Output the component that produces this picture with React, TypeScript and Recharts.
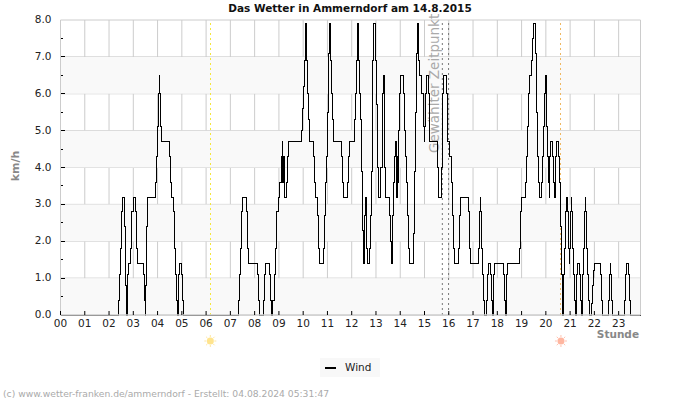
import { CartesianGrid, Legend, Line, LineChart, ReferenceArea, ReferenceLine, XAxis, YAxis } from "recharts";

// logger writes one wind reading about every 2.5 minutes, roughly 24.1 samples an hour
const samplesPerHour = 24.1;
const hourLabels = ["00", "01", "02", "03", "04", "05", "06", "07", "08", "09", "10", "11", "12", "13", "14", "15", "16", "17", "18", "19", "20", "21", "22", "23"];
const hourTicks = [0, 24.1, 48.2, 72.3, 96.4, 120.5, 144.6, 168.7, 192.8, 216.9, 241, 265.1, 289.2, 313.3, 337.4, 361.5, 385.6, 409.7, 433.8, 457.9, 482, 506.1, 530.2, 554.3];
const speedTicks = [0, 0.5, 1, 1.5, 2, 2.5, 3, 3.5, 4, 4.5, 5, 5.5, 6, 6.5, 7, 7.5, 8];
const gridSpeeds = [0, 1, 2, 3, 4, 5, 6, 7, 8];
const bandStarts = [0, 2, 4, 6];

const sunriseSample = 148.8;
const sunsetSample = 497;
const selectedFrom = 379.2;
const selectedTo = 385.4;

// only the samples where the reading changes, the line holds between them
const changeSamples = [
  0,
  58, 59, 60, 61, 62, 64, 65, 66, 67, 68,
  70, 71, 72, 74, 75, 76, 82, 83, 84, 84.5,
  85, 86, 94, 95, 96, 97, 98, 98.5, 99, 100,
  108, 109, 110, 112, 113, 114, 115, 116, 117, 118,
  120, 121, 122, 177, 178, 179, 180, 181, 185, 186,
  187, 196, 197, 198, 202, 203, 204, 208, 209, 210,
  211, 213, 214, 215, 216, 217, 219, 220, 220.5, 221,
  222, 224, 225, 226, 239, 240, 241, 242, 243, 243.5,
  244, 245, 246, 247, 251, 252, 253, 255, 256, 257,
  261, 262, 263, 264, 265, 266, 267, 268, 269, 270,
  271, 279, 280, 281, 285, 286, 287, 292, 293, 294,
  295, 296, 297, 298, 299, 300, 301, 302, 303, 304,
  305, 307, 308, 309, 310, 311, 313, 314, 315, 316,
  318, 320, 321, 321.5, 322, 323, 327, 328, 329, 329.5,
  330, 331, 332, 333, 333.5, 334, 334.5, 335, 335.5, 336,
  337, 338, 341, 342, 343, 344, 345, 346, 347, 351,
  352, 353, 354, 355, 355.5, 356, 357, 359, 360, 361,
  361.5, 362, 363, 365, 366, 374, 375, 378, 379, 380,
  383, 384, 386, 388, 389, 390, 391, 395, 396, 397,
  405, 406, 407, 415, 416, 417, 417.5, 418, 419, 420,
  421, 423, 424, 425, 427, 428, 429, 430, 430.5, 431,
  440, 441, 442, 443, 444, 456, 457, 458, 462, 463,
  464, 465, 466, 468, 469, 470, 472, 473, 474, 475,
  476, 478, 479, 480, 481, 482, 482.5, 483, 484, 485,
  485.5, 486, 487, 489, 490, 491, 491.5, 492, 493, 495,
  496, 497, 498, 499, 500, 501, 502, 503, 503.5, 504,
  505, 505.5, 506, 507, 507.5, 508, 509, 510, 511, 512,
  513, 515, 516, 517, 518, 519, 520, 521, 521.5, 522,
  523, 524, 525, 527, 528, 529, 530, 536, 537, 538,
  544, 545, 546, 546.5, 547, 548, 560, 561, 562, 564,
  565, 566, 576,
];

const windKmh = [
  0,
  0.4, 1.1, 1.8, 2.8, 3.2, 2.4, 0.8, 0, 1.1, 1.4,
  1.8, 2.8, 3.2, 2.8, 1.8, 1.4, 1.1, 0.4, 0, 0.8,
  2.4, 3.2, 3.6, 4.3, 5.1, 6, 6.5, 6, 5.1, 4.7,
  4.3, 3.6, 3.2, 2.8, 1.8, 1.1, 0.4, 0, 1.1, 1.4,
  1.1, 0.4, 0, 0.4, 1.1, 1.8, 2.8, 3.2, 2.8, 1.8,
  1.4, 1.1, 0.4, 0, 0.4, 1.1, 1.4, 1.1, 0.4, 0,
  0.4, 1.1, 1.8, 2.8, 3.2, 3.6, 4.3, 4.7, 3.6, 4.3,
  3.2, 3.6, 4.3, 4.7, 5, 5.6, 6.2, 6.9, 7.5, 7.9,
  6.9, 6, 5.3, 4.7, 4.3, 3.6, 3.2, 2.7, 1.8, 1.4,
  1.8, 2.7, 3.6, 4.3, 5.5, 7.1, 7.9, 6.9, 6, 5.3,
  4.7, 4.3, 3.6, 3.2, 3.6, 4.3, 4.7, 5.3, 6, 6.9,
  7.9, 6.9, 6, 5.3, 3.9, 2.3, 1.4, 2.7, 3.2, 1.8,
  1.4, 1.8, 2.7, 3.9, 6.9, 7.9, 6.9, 5.7, 4, 3.2,
  4, 6, 6.5, 6, 4, 3.2, 2.7, 2, 1.4, 2,
  2.7, 3.6, 4.3, 4.7, 3.6, 3.2, 4.3, 3.6, 4.3, 5,
  6, 6.5, 6, 5, 4.3, 3.6, 2.7, 1.8, 1.4, 2.2,
  3.9, 5.5, 7.1, 7.9, 7.5, 6.9, 6.5, 6, 5.1, 4.7,
  5.1, 6, 6.5, 6, 4.7, 4, 3.2, 4, 6, 6.5,
  6, 4.7, 4.3, 3.6, 2.7, 1.8, 1.4, 1.8, 2.7, 3.2,
  2.8, 1.8, 1.4, 1.8, 2.8, 3.2, 2.8, 1.8, 1.1, 0.4,
  0, 0.4, 1.1, 1.4, 1.1, 0.4, 0, 0.4, 1.1, 1.4,
  1.1, 0.4, 0, 1.1, 1.4, 1.8, 2.8, 3.2, 3.6, 4.3,
  5.1, 6, 6.5, 6.9, 7.5, 7.9, 7.1, 5.5, 4.3, 3.6,
  3.2, 3.6, 4.3, 5.1, 6, 6.5, 6, 5.1, 4.3, 3.6,
  3.2, 4.3, 4.7, 4.3, 3.6, 3.2, 3.6, 4.3, 4.7, 4.3,
  3.6, 2.4, 1.1, 0, 1.1, 1.8, 2.8, 3.2, 2.8, 1.8,
  1.4, 1.8, 2.8, 3.2, 2.8, 1.8, 1.1, 0.4, 0, 1.1,
  1.4, 1.1, 0.4, 0, 1.1, 1.8, 2.8, 3.2, 2.8, 1.8,
  1.1, 0.4, 0, 0.3, 0.8, 1.2, 1.4, 1.1, 0.4, 0,
  0.4, 1.1, 1.4, 1.1, 0.4, 0, 0.4, 1.1, 1.4, 1.1,
  0.4, 0, 0,
];

const rows = changeSamples.map((sample, i) => ({ sample, wind: windKmh[i] }));

const font = "'DejaVu Sans', sans-serif";

function SpeedTick({ x, y, payload }: any) {
  const whole = Number.isInteger(payload.value);
  const edge = payload.value === 0 || payload.value === 8;
  return (
    <g>
      {!edge && <line x1={x + 2} x2={x + (whole ? 6 : 4)} y1={y} y2={y} stroke="#000" shapeRendering="crispEdges" />}
      {whole && (
        <text x={x - 7} y={y + 3} textAnchor="end" fontSize={10.5} fill="#222" fontFamily={font}>
          {payload.value.toFixed(1)}
        </text>
      )}
    </g>
  );
}

function Sun({ viewBox, color }: any) {
  const cx = viewBox.x;
  const cy = viewBox.y + viewBox.height + 26;
  const rays = [0, 45, 90, 135, 180, 225, 270, 315];
  return (
    <g>
      {rays.map((deg) => (
        <line
          key={deg}
          x1={cx + 4 * Math.cos((deg * Math.PI) / 180)}
          y1={cy + 4 * Math.sin((deg * Math.PI) / 180)}
          x2={cx + 6 * Math.cos((deg * Math.PI) / 180)}
          y2={cy + 6 * Math.sin((deg * Math.PI) / 180)}
          stroke={color}
          opacity={0.7}
        />
      ))}
      <circle cx={cx} cy={cy} r={3.5} fill={color} opacity={0.85} />
    </g>
  );
}

function SelectedLabel({ viewBox }: any) {
  const x = viewBox.x - 3;
  const y = viewBox.y + 133;
  return (
    <text x={x} y={y} transform={`rotate(-90 ${x} ${y})`} fontSize={13.5} fill="#aaa" fontFamily={font}>
      Gewählter Zeitpunkt
    </text>
  );
}

function WindLegend() {
  return (
    <div style={{ width: 60, height: 19, background: "#f8f8f8", display: "flex", alignItems: "center", fontFamily: font, fontSize: 10.5, color: "#222" }}>
      <span style={{ display: "inline-block", width: 11, height: 2, background: "#000", marginLeft: 5, marginRight: 9 }} />
      <span style={{ marginTop: -2 }}>Wind</span>
    </div>
  );
}

export default function App() {
  return (
    <div style={{ position: "absolute", left: 0, top: 0, width: 700, height: 400 }}>
      <LineChart width={700} height={400} data={rows} margin={{ top: 20, right: 59.5, bottom: 0, left: 0.5 }}>
        {bandStarts.map((start) => (
          <ReferenceArea key={start} y1={start} y2={start + 1} fill="#f9f9f9" fillOpacity={1} stroke="none" />
        ))}
        <CartesianGrid
          stroke="#ccc"
          strokeWidth={1}
          horizontalValues={gridSpeeds}
          verticalValues={hourTicks}
        />
        <XAxis
          dataKey="sample"
          type="number"
          domain={[0, 576]}
          ticks={hourTicks}
          interval={0}
          height={85}
          tickSize={-4}
          tickMargin={9}
          tick={{ fontSize: 10.5, fill: "#222", fontFamily: font }}
          tickLine={{ stroke: "#000" }}
          axisLine={false}
          tickFormatter={(v: number) => hourLabels[Math.round(v / samplesPerHour)]}
        />
        <YAxis
          type="number"
          domain={[0, 8]}
          ticks={speedTicks}
          interval={0}
          width={60}
          tickSize={0}
          tick={<SpeedTick />}
          axisLine={false}
        />
        <ReferenceLine x={sunriseSample} stroke="#f5e63c" strokeDasharray="2 3" shapeRendering="crispEdges" label={<Sun color="#ffdf7a" />} />
        <ReferenceLine x={sunsetSample} stroke="#f0b860" strokeDasharray="2 3" shapeRendering="crispEdges" label={<Sun color="#ffa98f" />} />
        <ReferenceLine x={selectedFrom} stroke="#777" strokeDasharray="2 3" label={<SelectedLabel />} />
        <ReferenceLine x={selectedTo} stroke="#777" strokeDasharray="2 3" />
        <Line
          type="stepAfter"
          dataKey="wind"
          name="Wind"
          stroke="#000"
          strokeWidth={1}
          shapeRendering="crispEdges"
          dot={false}
          activeDot={false}
          isAnimationActive={false}
        />
        {/* frame goes over the series so calm periods and the first tick stay hidden */}
        <ReferenceLine y={0} stroke="#ccc" strokeWidth={1.3} />
        <ReferenceLine x={0} stroke="#ccc" strokeWidth={1} />
        <ReferenceLine x={576} stroke="#ccc" strokeWidth={1} />
        <Legend
          verticalAlign="middle"
          align="center"
          content={<WindLegend />}
          wrapperStyle={{ position: "absolute", left: 320, top: 358, width: 60, height: 19 }}
        />
        <text x={350} y={12} textAnchor="middle" fontSize={10.5} fontWeight="bold" fill="#111" fontFamily={font}>
          Das Wetter in Ammerndorf am 14.8.2015
        </text>
        <text x={639} y={338} textAnchor="end" fontSize={10.5} fontWeight="bold" fill="#888" fontFamily={font}>
          Stunde
        </text>
        <text x={19} y={166} textAnchor="middle" transform="rotate(-90 19 166)" fontSize={11} fontWeight="bold" fill="#888" fontFamily={font}>
          km/h
        </text>
        <text x={3} y={397} fontSize={9.2} fill="#aaa" fontFamily={font}>
          (c) www.wetter-franken.de/ammerndorf - Erstellt: 04.08.2024 05:31:47
        </text>
      </LineChart>
    </div>
  );
}
